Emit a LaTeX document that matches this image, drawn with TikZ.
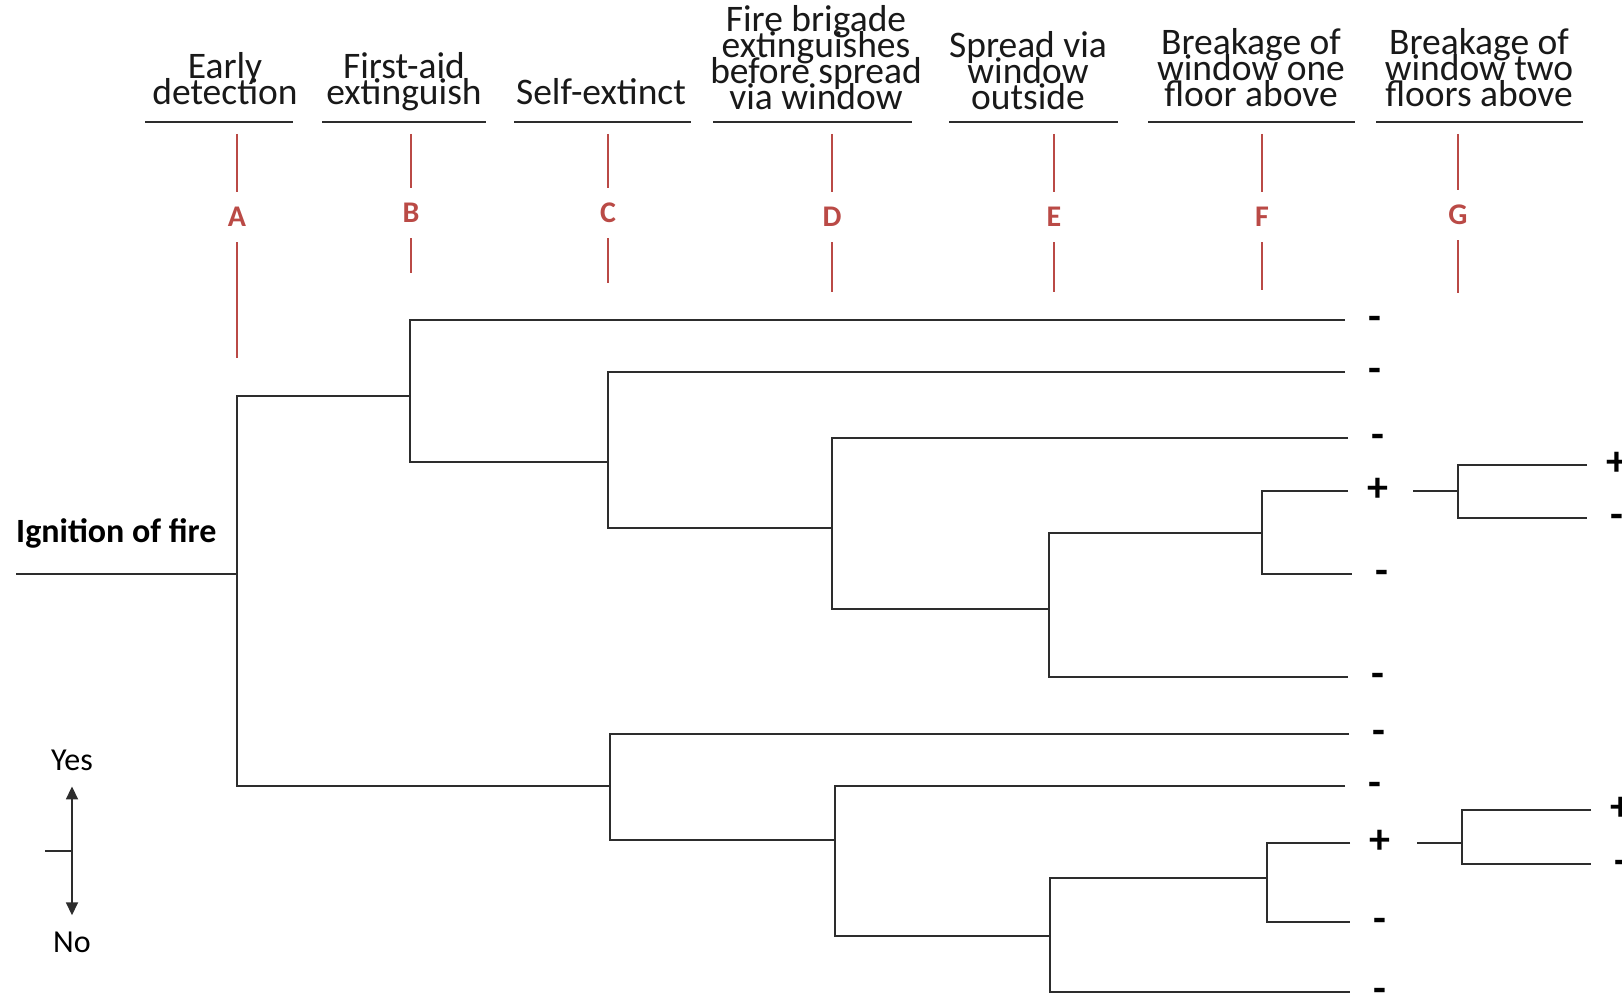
\documentclass[tikz,border=0pt]{standalone}
\usepackage{fontspec}
\setmainfont{Carlito}
\usepackage{tikz}
\usetikzlibrary{arrows.meta, positioning}
\definecolor{nodered}{RGB}{186, 74, 70}
\definecolor{linegray}{RGB}{45, 45, 45}

\begin{document}
\begin{tikzpicture}[
          x=1pt, y=-1pt,
          node distance=18pt,
          head/.style={font={\fontsize{37.5}{26}\selectfont\lineskiplimit-50pt}, align=center,
                       anchor=south, inner sep=0pt, text depth=0pt, text=black!90},
          letter/.style={font=\fontsize{30}{30}\selectfont\bfseries, text=nodered,
                         inner sep=0pt, minimum height=50pt},
          sign/.style={font=\fontsize{42}{42}\selectfont\bfseries, inner sep=0pt,
                       minimum width=24pt, text height=21pt, text depth=0pt},
          legend/.style={font=\fontsize{32}{32}\selectfont, inner xsep=0pt, inner ysep=16pt},
          tree/.style={line width=1.8pt, draw=linegray},
          uline/.style={line width=2pt, draw=linegray},
          redline/.style={line width=1.3pt, draw=nodered},
          arr/.style={-{Triangle[length=13pt, width=12pt]}, line width=1.8pt, draw=linegray}
        ]
        \useasboundingbox (0,0) rectangle (1622,1000);

        % Column headings
        \node[head] (hA) at (225,105)  {Early\\detection};
        \node[head] (hB) at (404,105)  {First-aid\\extinguish};
        \node[head] (hC) at (601,105)  {Self-extinct};
        \node[head] (hD) at (816,110)  {Fire brigade\\extinguishes\\before spread\\via window};
        \node[head] (hE) at (1028,110) {Spread via\\window\\outside};
        \node[head] (hF) at (1251,107) {Breakage of\\window one\\floor above};
        \node[head] (hG) at (1479,107) {Breakage of\\window two\\floors above};
        \foreach \a/\b in {145/293, 322/486, 514/691, 713/912, 949/1118, 1148/1355, 1376/1583}
          \draw[uline] (\a,122) -- (\b,122);

        % Event letters
        \foreach \n/\x/\y/\e in {A/237/217/358, B/411/213/273, C/608/213/283, D/832/217/292,
                                 E/1054/217/292, F/1262/217/290, G/1458/215/293} {
          \node[letter] (l\n) at (\x,\y) {\n};
          \coordinate (t\n) at (\x,134);
          \coordinate (b\n) at (\x,\e);
          \draw[redline] (t\n) -- (l\n.north);
          \draw[redline] (l\n.south) -- (b\n);
        }

        % Branch points
        \coordinate (root) at (16,574);
        \coordinate (nA)  at (237,574);
        \coordinate (nB)  at (410,396);
        \coordinate (nC)  at (608,462);
        \coordinate (nD)  at (832,528);
        \coordinate (nE)  at (1049,609);
        \coordinate (nF)  at (1262,533);
        \coordinate (nG)  at (1458,491);
        \coordinate (nC2) at (610,786);
        \coordinate (nD2) at (835,840);
        \coordinate (nE2) at (1050,936);
        \coordinate (nF2) at (1267,878);
        \coordinate (nG2) at (1462,843);

        % Branch ends
        \coordinate (e1)  at (1345,320);
        \coordinate (e2)  at (1345,372);
        \coordinate (e3)  at (1348,438);
        \coordinate (e4)  at (1348,491);
        \coordinate (e5)  at (1352,574);
        \coordinate (e6)  at (1348,677);
        \coordinate (e7)  at (1349,734);
        \coordinate (e8)  at (1345,786);
        \coordinate (e9)  at (1350,843);
        \coordinate (e10) at (1350,922);
        \coordinate (e11) at (1350,992);
        \coordinate (g0)  at (1413,491);
        \coordinate (g1)  at (1587,465);
        \coordinate (g2)  at (1587,518);
        \coordinate (h0)  at (1417,843);
        \coordinate (h1)  at (1591,810);
        \coordinate (h2)  at (1591,864);

        % Outcomes
        \foreach \i/\s in {1/-, 2/-, 3/-, 4/+, 5/-, 6/-, 7/-, 8/-, 9/+, 10/-, 11/-}
          \node[sign, right=of e\i] (s\i) {\s};
        \node[sign, right=of g1] (sg1) {+};
        \node[sign, right=of g2] (sg2) {-};
        \node[sign, right=of h1] (sh1) {+};
        \node[sign, right=of h2] (sh2) {-};

        % Tree
        \node[font=\fontsize{34}{34}\selectfont\bfseries, anchor=base west, inner sep=0pt]
             (ign) at (16,542) {Ignition of fire};
        \draw[tree] (root) -- (nA);
        \draw[tree] (nB) -| (nA) |- (nC2);
        \draw[tree] (e1) -| (nB) |- (nC);
        \draw[tree] (e2) -| (nC) |- (nD);
        \draw[tree] (e3) -| (nD) |- (nE);
        \draw[tree] (nF) -| (nE) |- (e6);
        \draw[tree] (e4) -| (nF) |- (e5);
        \draw[tree] (g1) -| (nG) |- (g2);
        \draw[tree] (g0) -- (nG);
        \draw[tree] (e7) -| (nC2) |- (nD2);
        \draw[tree] (e8) -| (nD2) |- (nE2);
        \draw[tree] (nF2) -| (nE2) |- (e11);
        \draw[tree] (e9) -| (nF2) |- (e10);
        \draw[tree] (h1) -| (nG2) |- (h2);
        \draw[tree] (h0) -- (nG2);

        % Legend
        \node[legend, anchor=base] (yes) at (72,770) {Yes};
        \node[legend, anchor=base] (no)  at (72,952) {No};
        \coordinate (mid)  at (72,851);
        \coordinate (tick) at (45,851);
        \draw[arr] (mid) -- (yes.south);
        \draw[arr] (mid) -- (no.north);
        \draw[line width=1.3pt, draw=linegray] (tick) -- (mid);
      \end{tikzpicture}
\end{document}
